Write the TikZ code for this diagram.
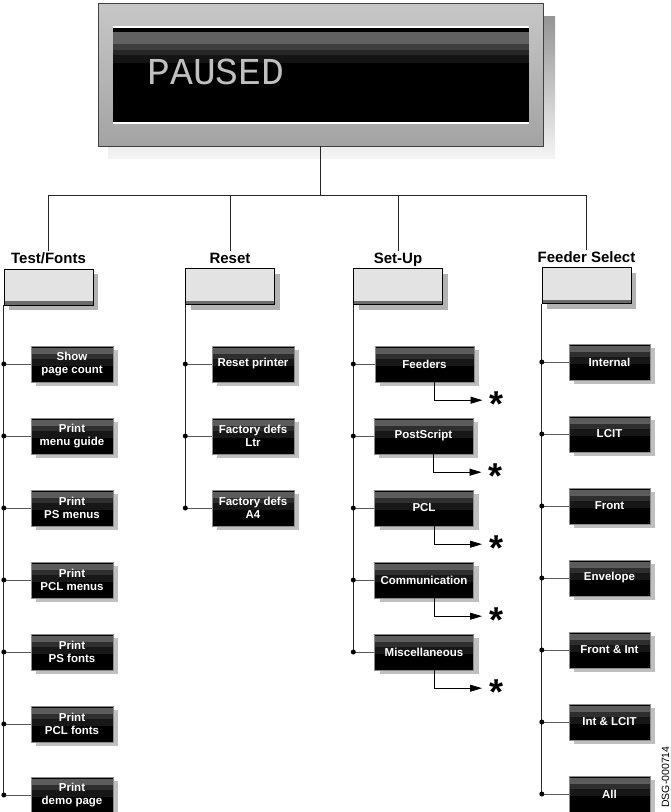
\documentclass[tikz,border=0pt]{standalone}
\usepackage{fontspec}
\setmainfont{Liberation Sans}
\newfontfamily\dotfont{Liberation Mono}
\usetikzlibrary{positioning,shadows,arrows.meta,calc}

\tikzset{
  panel/.style={draw=black!75, top color=black!22, bottom color=black!36, minimum width=445pt, minimum height=143pt, inner sep=0pt},
  headlabel/.style={font=\fontsize{15}{16}\selectfont\bfseries, inner sep=1pt, text height=11pt, text depth=3pt},
  headbox/.style={draw=black, fill=black!11, minimum width=89pt, minimum height=36pt, inner sep=0pt,
    drop shadow={shadow xshift=5pt, shadow yshift=-5pt, fill=black!30, opacity=1},
    path picture={\fill[black!58] ([yshift=4pt]path picture bounding box.south west) rectangle (path picture bounding box.south east);}},
  leafbox/.style={draw=black!45, fill=black, text=white, minimum width=82pt, minimum height=36pt, inner sep=0pt, align=center,
    font=\fontsize{11.5}{12.5}\selectfont\bfseries,
    drop shadow={shadow xshift=5pt, shadow yshift=-4pt, fill=black!25, opacity=1},
    path picture={
      \fill[black!64] ([yshift=-1.5pt]path picture bounding box.north west) rectangle ([yshift=-8pt]path picture bounding box.north east);
      \fill[black!82] ([yshift=-8pt]path picture bounding box.north west) rectangle ([yshift=-13pt]path picture bounding box.north east);
      \fill[black!91] ([yshift=-13pt]path picture bounding box.north west) rectangle ([yshift=-20pt]path picture bounding box.north east);}},
  spine/.style={draw=black!85, line width=0.8pt},
  stub/.style={draw=black!65, line width=0.9pt},
  dot/.style={circle, fill=black, inner sep=0pt, minimum size=5pt},
  flow/.style={draw=black, line width=0.8pt, -{Triangle[length=12pt,width=7pt]}},
  star/.style={font=\fontsize{36}{36}\selectfont\bfseries, inner sep=0pt, anchor=base west},
}

\begin{document}
\begin{tikzpicture}[x=1pt,y=-1pt]
  \useasboundingbox (0,0) rectangle (670,812);
  % === Display ===
  \shade[top color=black!42, bottom color=black!4] (108,16) rectangle (555,158);
  \node[panel] (panel) at (320.5,74.5) {};
  \fill[white] (113,26) rectangle (529,124);
  \fill[black] (113,28) rectangle (529,122);
  \fill[black!62] (113,32) rectangle (529,44);
  \fill[black!76] (113,44) rectangle (529,50);
  \fill[black!85] (113,50) rectangle (529,55);
  \fill[black!92] (113,55) rectangle (529,63);
  \node[text=black!25, font=\dotfont\fontsize{38}{38}\selectfont] (msg) at (216,72) {PAUSED};

  % === Header boxes ===
  \node[headbox] (tfbox) at (48.5,287) {};
  \node[headbox] (rsbox) at (230,286.5) {};
  \node[headbox] (subox) at (398,286.5) {};
  \node[headbox] (fsbox) at (586.5,285.5) {};
  \node[headlabel, above=1pt of tfbox] (tf) {Test/Fonts};
  \node[headlabel, above=1pt of rsbox] (rs) {Reset};
  \node[headlabel, above=1pt of subox] (su) {Set-Up};
  \node[headlabel, above=1pt of fsbox] (fs) {Feeder Select};

  % Baum
  \coordinate (bus) at (0,195);
  \draw[spine] (panel.south) -- (panel.south |- bus);
  \draw[spine] (tf.north) |- (bus -| fs.north) -- (fs.north);
  \draw[spine] (rs.north) -- (rs.north |- bus);
  \draw[spine] (su.north) -- (su.north |- bus);

  % === Test/Fonts ===
  \node[leafbox] (tf1) at (72,364) {Show\\page count};
  \node[leafbox] (tf2) at (72,436) {Print\\menu guide};
  \node[leafbox] (tf3) at (72,508) {Print\\PS menus};
  \node[leafbox] (tf4) at (72,580) {Print\\PCL menus};
  \node[leafbox] (tf5) at (72,652) {Print\\PS fonts};
  \node[leafbox] (tf6) at (72,724) {Print\\PCL fonts};
  \node[leafbox] (tf7) at (72,795) {Print\\demo page};
  \draw[spine] (tfbox.south west) -- (tfbox.south west |- tf7);
  \foreach \i in {1,...,7} {
    \draw[stub] (tfbox.south west |- tf\i) -- (tf\i.west);
    \node[dot] (tfd\i) at (tfbox.south west |- tf\i) {};
  }

  % === Reset ===
  \node[leafbox] (rs1) at (253,364) {Reset printer};
  \node[leafbox] (rs2) at (253,436) {Factory defs\\Ltr};
  \node[leafbox] (rs3) at (253,508) {Factory defs\\A4};
  \draw[spine] (rsbox.south west) -- (rsbox.south west |- rs3);
  \foreach \i in {1,...,3} {
    \draw[stub] (rsbox.south west |- rs\i) -- (rs\i.west);
    \node[dot] (rsd\i) at (rsbox.south west |- rs\i) {};
  }

  % === Set-Up ===
  \node[leafbox, minimum width=99pt] (su1) at (424.5,364) {Feeders};
  \node[leafbox, minimum width=99pt] (su2) at (423.5,436) {PostScript};
  \node[leafbox, minimum width=99pt] (su3) at (424,508) {PCL};
  \node[leafbox, minimum width=99pt] (su4) at (424,580) {Communication};
  \node[leafbox, minimum width=99pt] (su5) at (424,652) {Miscellaneous};
  \draw[spine] (subox.south west) -- (subox.south west |- su5);
  \foreach \i in {1,...,5} {
    \draw[stub] (subox.south west |- su\i) -- (su\i.west);
    \node[dot] (sud\i) at (subox.south west |- su\i) {};
    \coordinate (ar\i) at ($(su\i.south)+(58,18)$);
    \draw[flow] ([xshift=10pt]su\i.south) |- (ar\i);
    \node[star] (st\i) at ($(ar\i)+(7,16)$) {*};
  }

  % === Feeder Select ===
  \node[leafbox, minimum width=81pt] (fs1) at (609.5,362) {Internal};
  \node[leafbox, minimum width=81pt] (fs2) at (609.5,434) {LCIT};
  \node[leafbox, minimum width=81pt] (fs3) at (609.5,506) {Front};
  \node[leafbox, minimum width=81pt] (fs4) at (609.5,578) {Envelope};
  \node[leafbox, minimum width=81pt] (fs5) at (609.5,650) {Front \& Int};
  \node[leafbox, minimum width=81pt] (fs6) at (609.5,722) {Int \& LCIT};
  \node[leafbox, minimum width=81pt] (fs7) at (609.5,794) {All};
  \draw[spine] (fsbox.south west) -- (fsbox.south west |- fs7);
  \foreach \i in {1,...,7} {
    \draw[stub] (fsbox.south west |- fs\i) -- (fs\i.west);
    \node[dot] (fsd\i) at (fsbox.south west |- fs\i) {};
  }

  \node[rotate=90, font=\fontsize{10.5}{12}\selectfont] (dsg) at (665.5,777) {DSG-000714};
\end{tikzpicture}
\end{document}
